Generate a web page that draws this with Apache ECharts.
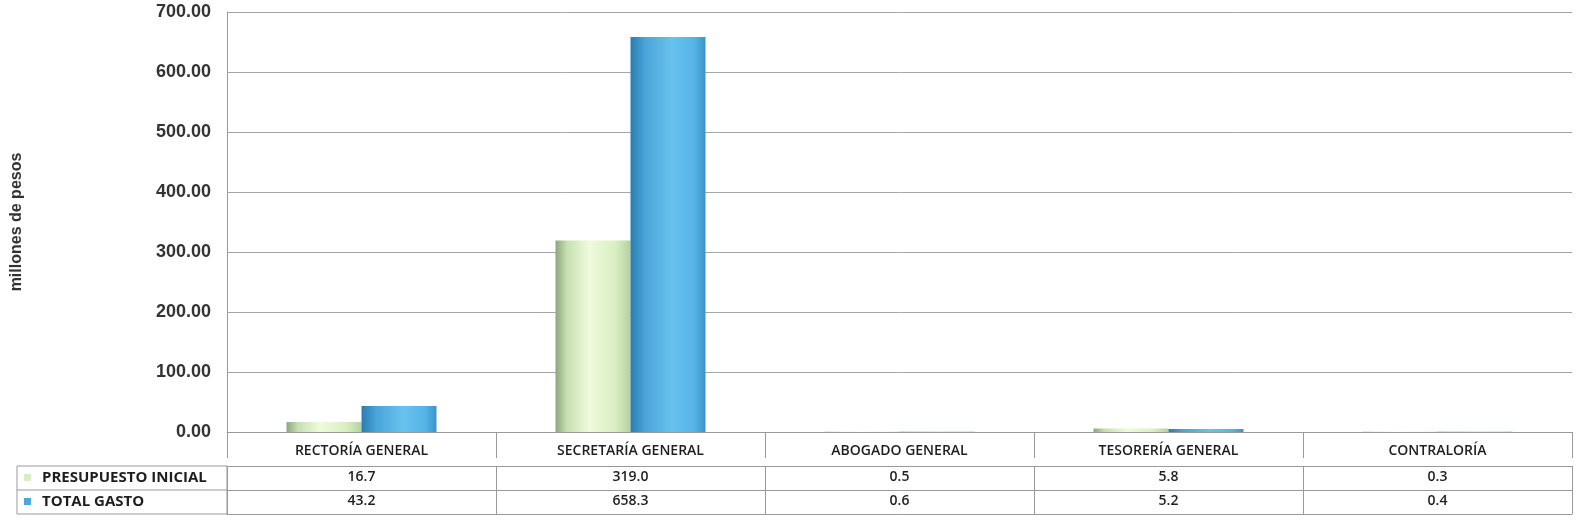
<!DOCTYPE html>
<html>
<head>
<meta charset="utf-8">
<script src="https://cdn.jsdelivr.net/npm/echarts@6/dist/echarts.min.js"></script>
<style>
html,body{margin:0;padding:0;background:#fff;}
#chart{width:1585px;height:531px;}
</style>
</head>
<body>
<div id="chart"></div>
<script>
const categories = ['RECTORÍA GENERAL', 'SECRETARÍA GENERAL', 'ABOGADO GENERAL', 'TESORERÍA GENERAL', 'CONTRALORÍA'];
const seriesNames = ['PRESUPUESTO INICIAL', 'TOTAL GASTO'];
const presupuestoInicial = [16.7, 319.0, 0.5, 5.8, 0.3];
const totalGasto = [43.2, 658.3, 0.6, 5.2, 0.4];
const yAxisName = 'millones de pesos';
const yMin = 0, yMax = 700, yInterval = 100;

const chart = echarts.init(document.getElementById('chart'));

const GRID_LEFT = 227, GRID_RIGHT = 13, GRID_TOP = 12, GRID_BOTTOM = 99;
const ZERO_Y = 531 - GRID_BOTTOM;
const ROW_TOPS = [ZERO_Y + 8, ZERO_Y + 34, ZERO_Y + 58, ZERO_Y + 82];
const LINE = '#999999';
const TXT = '#1e1e1e';
const FONT = 'Open Sans';

const greenGrad = new echarts.graphic.LinearGradient(0, 0, 1, 0, [
  {offset: 0, color: '#8ea57f'},
  {offset: 0.15, color: '#c6dfb0'},
  {offset: 0.45, color: '#effbdc'},
  {offset: 0.8, color: '#d9eec2'},
  {offset: 1, color: '#b5d1a0'}
]);
const blueGrad = new echarts.graphic.LinearGradient(0, 0, 1, 0, [
  {offset: 0, color: '#2a7db0'},
  {offset: 0.2, color: '#4aa5d8'},
  {offset: 0.55, color: '#68c2ee'},
  {offset: 0.85, color: '#56b4e6'},
  {offset: 1, color: '#3b93c7'}
]);
const legendColors = ['#d6efc0', '#4aa8dc'];

function tableAxis(offset, data, showLabel, tickLen, weight) {
  return {
    type: 'category', gridIndex: 0, position: 'bottom', offset: offset,
    data: data, boundaryGap: true,
    axisLine: {show: true, lineStyle: {color: LINE, width: 1}},
    axisTick: {show: tickLen > 0, interval: 0, length: tickLen, alignWithLabel: false, lineStyle: {color: LINE}},
    axisLabel: {show: showLabel, interval: 0, margin: 4, color: TXT, fontFamily: FONT, fontSize: 14, fontWeight: weight},
    splitLine: {show: false}
  };
}

const fmt1 = v => v.toFixed(1);

const graphics = [];
// left row-label column of the data table
graphics.push({type: 'rect', shape: {x: 17, y: ROW_TOPS[1], width: GRID_LEFT - 17, height: ROW_TOPS[3] - ROW_TOPS[1]},
  style: {fill: 'none', stroke: LINE, lineWidth: 1}});
graphics.push({type: 'line', shape: {x1: 17, y1: ROW_TOPS[2], x2: GRID_LEFT, y2: ROW_TOPS[2]}, style: {stroke: LINE, lineWidth: 1}});
seriesNames.forEach((name, i) => {
  const cy = (ROW_TOPS[i + 1] + ROW_TOPS[i + 2]) / 2;
  graphics.push({type: 'rect', shape: {x: 24, y: cy - 4, width: 7, height: 7}, style: {fill: legendColors[i]}});
  graphics.push({type: 'text', x: 42, y: cy, style: {text: name, fill: TXT, font: 'bold 15px ' + FONT, textVerticalAlign: 'middle'}});
});

chart.setOption({
  animation: false,
  backgroundColor: '#ffffff',
  grid: {left: GRID_LEFT, right: GRID_RIGHT, top: GRID_TOP, bottom: GRID_BOTTOM, containLabel: false},
  xAxis: [
    tableAxis(8, categories, true, 26, 600),
    tableAxis(34, presupuestoInicial.map(fmt1), true, 24, 600),
    tableAxis(58, totalGasto.map(fmt1), true, 24, 600),
    tableAxis(82, categories, false, 0, 'normal')
  ],
  yAxis: {
    type: 'value', min: yMin, max: yMax, interval: yInterval,
    name: yAxisName, nameLocation: 'middle', nameGap: 202, nameRotate: 90,
    nameTextStyle: {color: '#333', fontFamily: 'Liberation Sans', fontSize: 16, fontWeight: 'bold'},
    axisLine: {show: true, lineStyle: {color: LINE}},
    axisTick: {show: false},
    axisLabel: {formatter: v => v.toFixed(2), color: '#333', fontFamily: 'Liberation Sans', fontSize: 18, fontWeight: 'bold', margin: 16},
    splitLine: {show: true, lineStyle: {color: '#a6a6a6', width: 1}}
  },
  series: [
    {name: seriesNames[0], type: 'bar', xAxisIndex: 0, data: presupuestoInicial, barWidth: 75, barGap: '0%',
      itemStyle: {color: greenGrad}},
    {name: seriesNames[1], type: 'bar', xAxisIndex: 0, data: totalGasto, barWidth: 75, barGap: '0%',
      itemStyle: {color: blueGrad}}
  ],
  graphic: graphics
});
</script>
</body>
</html>
